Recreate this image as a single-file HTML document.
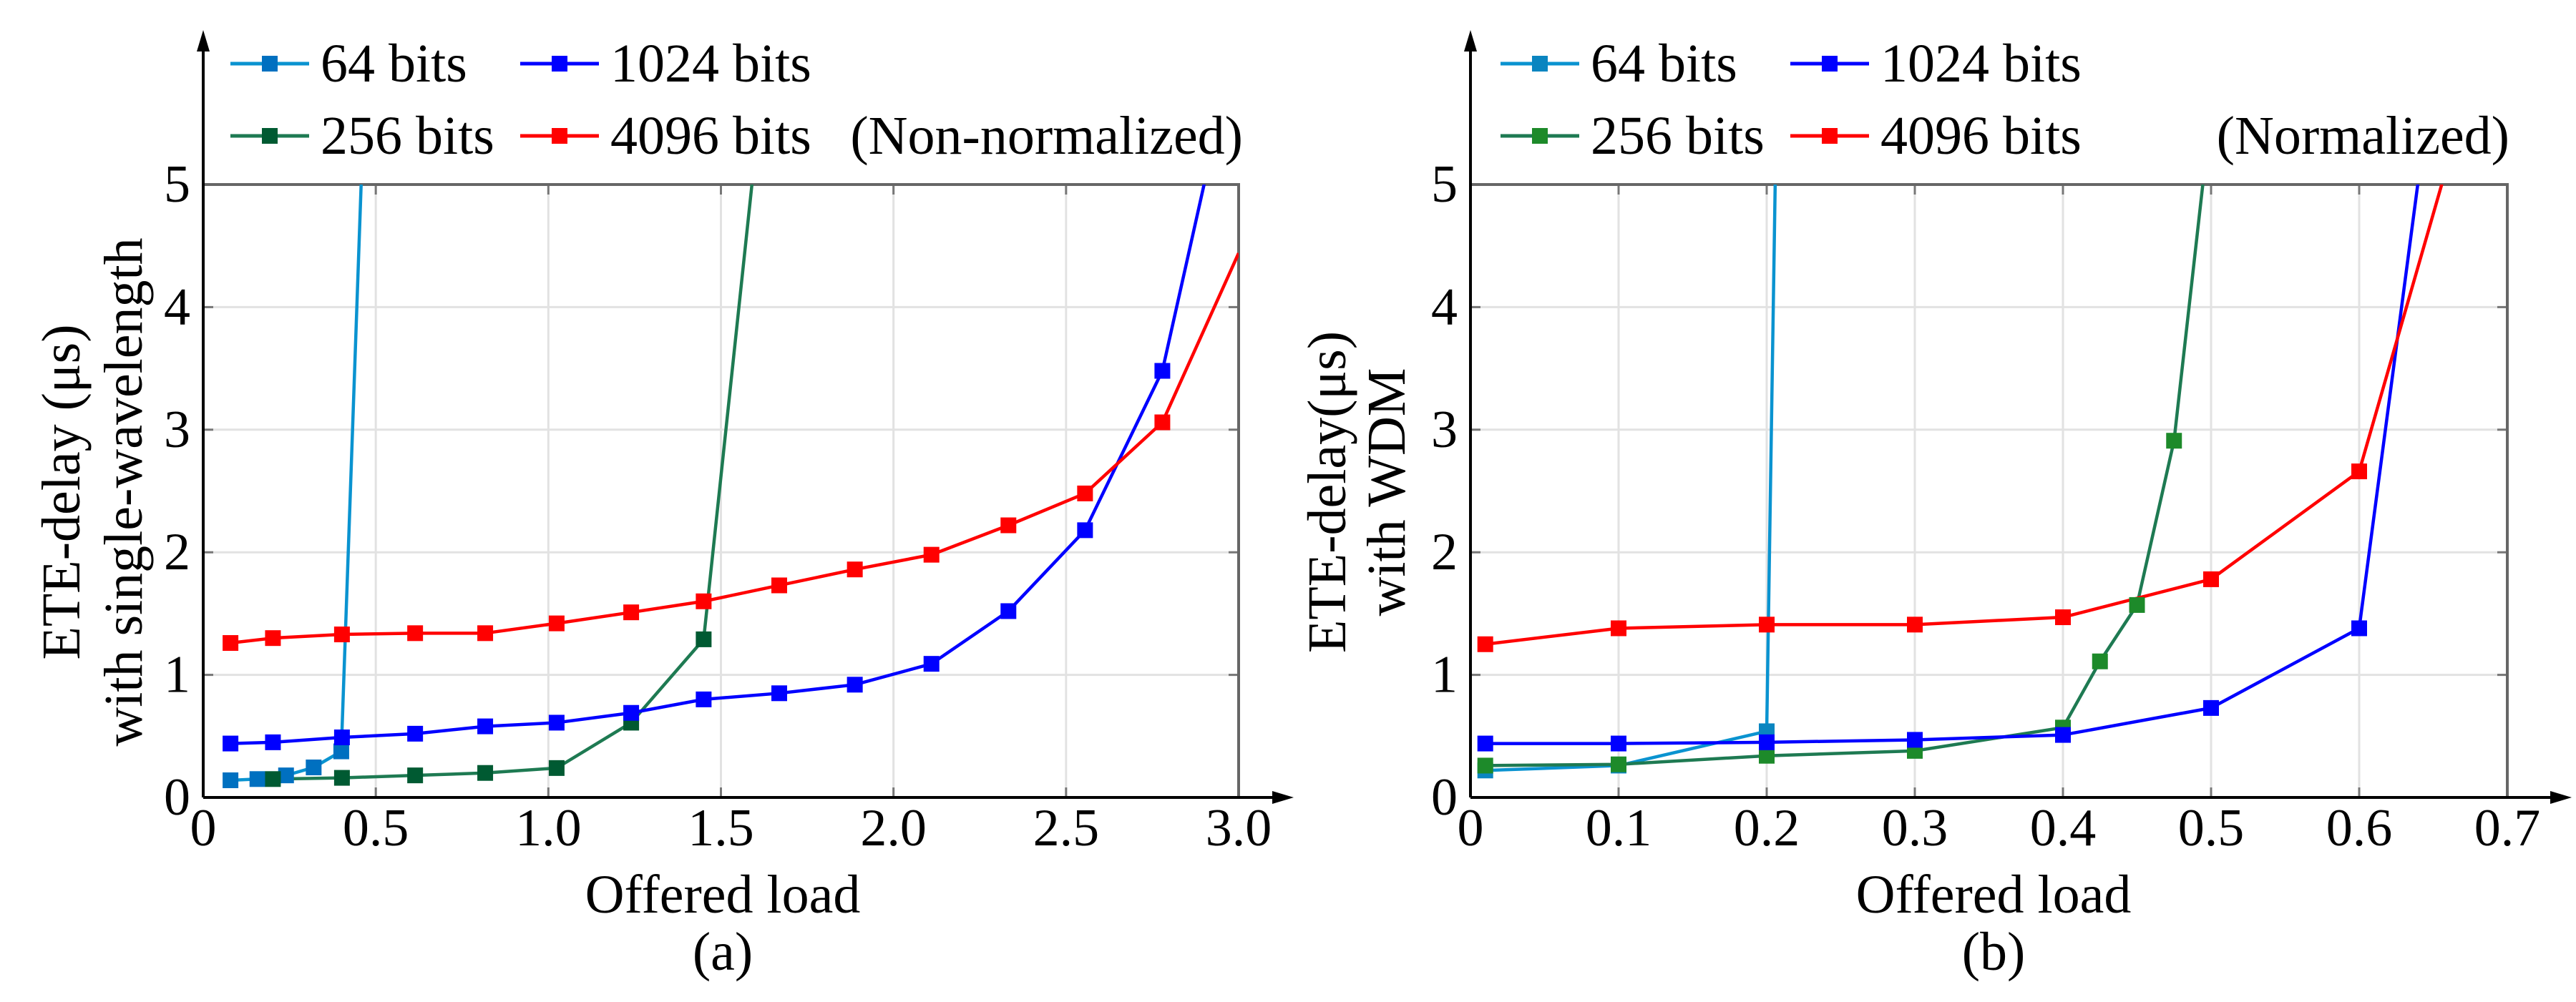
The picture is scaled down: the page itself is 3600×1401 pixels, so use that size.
<!DOCTYPE html>
<html><head><meta charset="utf-8">
<style>
html,body{margin:0;padding:0;background:#fff;}
svg{display:block;}
svg text{font-family:"Liberation Serif","Noto Serif CJK SC","DejaVu Serif",serif !important;fill:#000;}
</style></head>
<body>
<svg id="fig" width="3600" height="1401" viewBox="0 0 3600 1401" xmlns="http://www.w3.org/2000/svg"></svg>
<script>
// ---------- Chart (a) data ----------
const aX64 = [0.079, 0.157, 0.24, 0.32, 0.40, 0.47];
const aY64 = [0.14, 0.15, 0.18, 0.245, 0.376, 6.0];
const aX256 = [0.202, 0.402, 0.614, 0.817, 1.024, 1.24, 1.45, 1.62];
const aY256 = [0.15, 0.16, 0.18, 0.20, 0.24, 0.61, 1.29, 5.8];
const aX1024 = [0.079, 0.202, 0.402, 0.614, 0.817, 1.024, 1.24, 1.45, 1.669, 1.888, 2.11, 2.333, 2.555, 2.779, 2.95];
const aY1024 = [0.44, 0.45, 0.49, 0.52, 0.58, 0.61, 0.69, 0.80, 0.85, 0.92, 1.09, 1.52, 2.18, 3.48, 5.63];
const aX4096 = [0.079, 0.202, 0.402, 0.614, 0.817, 1.024, 1.24, 1.45, 1.669, 1.888, 2.11, 2.333, 2.555, 2.779, 3.0];
const aY4096 = [1.26, 1.30, 1.33, 1.34, 1.34, 1.42, 1.51, 1.60, 1.73, 1.86, 1.98, 2.22, 2.48, 3.06, 4.44];
const aXTicks = ["0", "0.5", "1.0", "1.5", "2.0", "2.5", "3.0"];
// ---------- Chart (b) data ----------
const bX64 = [0.01, 0.1, 0.2, 0.207];
const bY64 = [0.22, 0.26, 0.54, 6.0];
const bX256 = [0.01, 0.1, 0.2, 0.3, 0.4, 0.425, 0.45, 0.475, 0.50];
const bY256 = [0.26, 0.27, 0.34, 0.38, 0.57, 1.11, 1.57, 2.91, 5.6];
const bX1024 = [0.01, 0.1, 0.2, 0.3, 0.4, 0.5, 0.6, 0.645];
const bY1024 = [0.44, 0.44, 0.45, 0.47, 0.51, 0.73, 1.38, 5.5];
const bX4096 = [0.01, 0.1, 0.2, 0.3, 0.4, 0.5, 0.6, 0.67];
const bY4096 = [1.25, 1.38, 1.41, 1.41, 1.47, 1.78, 2.66, 5.6];
const bXTicks = ["0", "0.1", "0.2", "0.3", "0.4", "0.5", "0.6", "0.7"];
// shared
const yTicks = ["0", "1", "2", "3", "4", "5"];
const seriesNames = ["64 bits", "256 bits", "1024 bits", "4096 bits"];

const NS = "http://www.w3.org/2000/svg";
const svg = document.getElementById("fig");
function mk(tag, attrs, parent){
  const e = document.createElementNS(NS, tag);
  for (const k in attrs) e.setAttribute(k, attrs[k]);
  (parent||svg).appendChild(e);
  return e;
}

function drawChart(c){
  const g = mk("g", {});
  
  
  const sx = v => c.x0 + (v - c.xMin) / (c.xMax - c.xMin) * (c.x1 - c.x0);
  const sy = v => c.y0 - v / 5 * (c.y0 - c.y1);
  c.xTicks.forEach((t, i) => {
    const v = c.xMin + i * (c.xMax - c.xMin) / (c.xTicks.length - 1);
    const x = sx(v);
    if (i > 0 && i < c.xTicks.length - 1) {
      const gl = mk("line", {x1:x, x2:x, y1:c.y1, y2:c.y0, stroke:"#e2e2e2", "stroke-width":3}, g);
      
      
      mk("line", {x1:x, x2:x, y1:c.y0, y2:c.y0-14, stroke:"#777", "stroke-width":3}, g);
      mk("line", {x1:x, x2:x, y1:c.y1, y2:c.y1+14, stroke:"#777", "stroke-width":3}, g);
    }
    const tl = mk("text", {x:x, y:c.y0+67, "font-size":74, "text-anchor":"middle"}, g);
    tl.textContent = t;
    
    
  });
  yTicks.forEach((t, i) => {
    const y = sy(i);
    if (i > 0 && i < 5) {
      const gl = mk("line", {x1:c.x0, x2:c.x1, y1:y, y2:y, stroke:"#e2e2e2", "stroke-width":3}, g);
      
      
      mk("line", {x1:c.x0, x2:c.x0+14, y1:y, y2:y, stroke:"#777", "stroke-width":3}, g);
      mk("line", {x1:c.x1, x2:c.x1-14, y1:y, y2:y, stroke:"#777", "stroke-width":3}, g);
    }
    const tl = mk("text", {x:c.x0-18, y:y+24, "font-size":74, "text-anchor":"end"}, g);
    tl.textContent = t;
    
    
  });
  mk("polyline", {points:`${c.x0},${c.y1} ${c.x1},${c.y1} ${c.x1},${c.y0}`, fill:"none", stroke:"#666", "stroke-width":4}, g);
  const cid = c.id + "-clip";
  const cp = mk("clipPath", {id:cid}, g);
  mk("rect", {x:c.x0-20, y:c.y1, width:c.x1-c.x0+20, height:c.y0-c.y1+20}, cp);
  const plot = mk("g", {"clip-path":`url(#${cid})`}, g);
  c.series.forEach(s => {
    const pts = s.xs.map((v, i) => `${sx(v)},${sy(s.ys[i])}`).join(" ");
    const pl = mk("polyline", {points:pts, fill:"none", stroke:s.line, "stroke-width":4.5, "stroke-linejoin":"round"}, plot);
    
    
  });
  c.series.forEach(s => {
    for (let i = 0; i < s.xs.length - 1; i++) {
      const r = mk("rect", {x:sx(s.xs[i])-11, y:sy(s.ys[i])-11, width:22, height:22, fill:s.marker}, plot);
      
      
    }
  });
  mk("line", {x1:c.x0, x2:c.x0, y1:c.y0, y2:c.yTop+10, stroke:"#000", "stroke-width":4}, g);
  const ya = mk("polygon", {points:`${c.x0},${c.yTop-8} ${c.x0-9},${c.yTop+22} ${c.x0+9},${c.yTop+22}`, fill:"#000"}, g);
  
  
  mk("line", {x1:c.x0, x2:c.xEnd-10, y1:c.y0, y2:c.y0, stroke:"#000", "stroke-width":4}, g);
  const xa = mk("polygon", {points:`${c.xEnd+8},${c.y0} ${c.xEnd-22},${c.y0-9} ${c.xEnd-22},${c.y0+9}`, fill:"#000"}, g);
  
  
  const xt = mk("text", {x:c.xTitleX, y:1276, "font-size":76, "text-anchor":"middle"}, g);
  xt.textContent = "Offered load";
  
  
  const cap = mk("text", {x:c.xTitleX, y:1356, "font-size":76, "text-anchor":"middle"}, g);
  cap.textContent = c.caption;
  
  
  c.yTitle.forEach((line, i) => {
    const yt = mk("text", {x:0, y:0, "font-size":76, "text-anchor":"middle", transform:`translate(${c.yTitleX[i]+25},688) rotate(-90)`}, g);
    yt.textContent = line;
    
    
  });
  c.series.forEach((s, i) => {
    const col = i < 2 ? 0 : 1, row = i % 2;
    const lx = c.legX[col], ly = row === 0 ? 89 : 190;
    const le = mk("g", {}, g);
    
    
    mk("line", {x1:lx, x2:lx+110, y1:ly, y2:ly, stroke:s.line, "stroke-width":5}, le);
    mk("rect", {x:lx+44, y:ly-11, width:22, height:22, fill:s.marker}, le);
    const t = mk("text", {x:lx+126, y:ly+25, "font-size":76}, le);
    t.textContent = seriesNames[i];
  });
  const note = mk("text", {x:c.noteX, y:215, "font-size":76, "text-anchor":"end"}, g);
  note.textContent = c.note;
  
  
}

drawChart({
  id:"chart-a", x0:284, x1:1731, y0:1115, y1:258, yTop:50, xEnd:1800, xMin:0, xMax:3,
  xTicks:aXTicks, caption:"(a)", xTitleX:1010, yTitle:["ETE-delay (μs)", "with single-wavelength"], yTitleX:[86,173],
  legX:[322,727], note:"(Non-normalized)", noteX:1737,
  series:[
    {key:"64-bits", xs:aX64, ys:aY64, line:"#0a93d0", marker:"#0070c0"},
    {key:"256-bits", xs:aX256, ys:aY256, line:"#1e7a52", marker:"#005a32"},
    {key:"1024-bits", xs:aX1024, ys:aY1024, line:"#0000ff", marker:"#0000ff"},
    {key:"4096-bits", xs:aX4096, ys:aY4096, line:"#ff0000", marker:"#ff0000"}
  ]
});
drawChart({
  id:"chart-b", x0:2055, x1:3504, y0:1115, y1:258, yTop:50, xEnd:3586, xMin:0, xMax:0.7,
  xTicks:bXTicks, caption:"(b)", xTitleX:2786, yTitle:["ETE-delay(μs)", "with WDM"], yTitleX:[1855,1938],
  legX:[2097,2502], note:"(Normalized)", noteX:3507,
  series:[
    {key:"64-bits", xs:bX64, ys:bY64, line:"#0a93d0", marker:"#0a85c0"},
    {key:"256-bits", xs:bX256, ys:bY256, line:"#1e7a52", marker:"#1d8a2a"},
    {key:"1024-bits", xs:bX1024, ys:bY1024, line:"#0000ff", marker:"#0000ff"},
    {key:"4096-bits", xs:bX4096, ys:bY4096, line:"#ff0000", marker:"#ff0000"}
  ]
});
</script>
</body></html>
